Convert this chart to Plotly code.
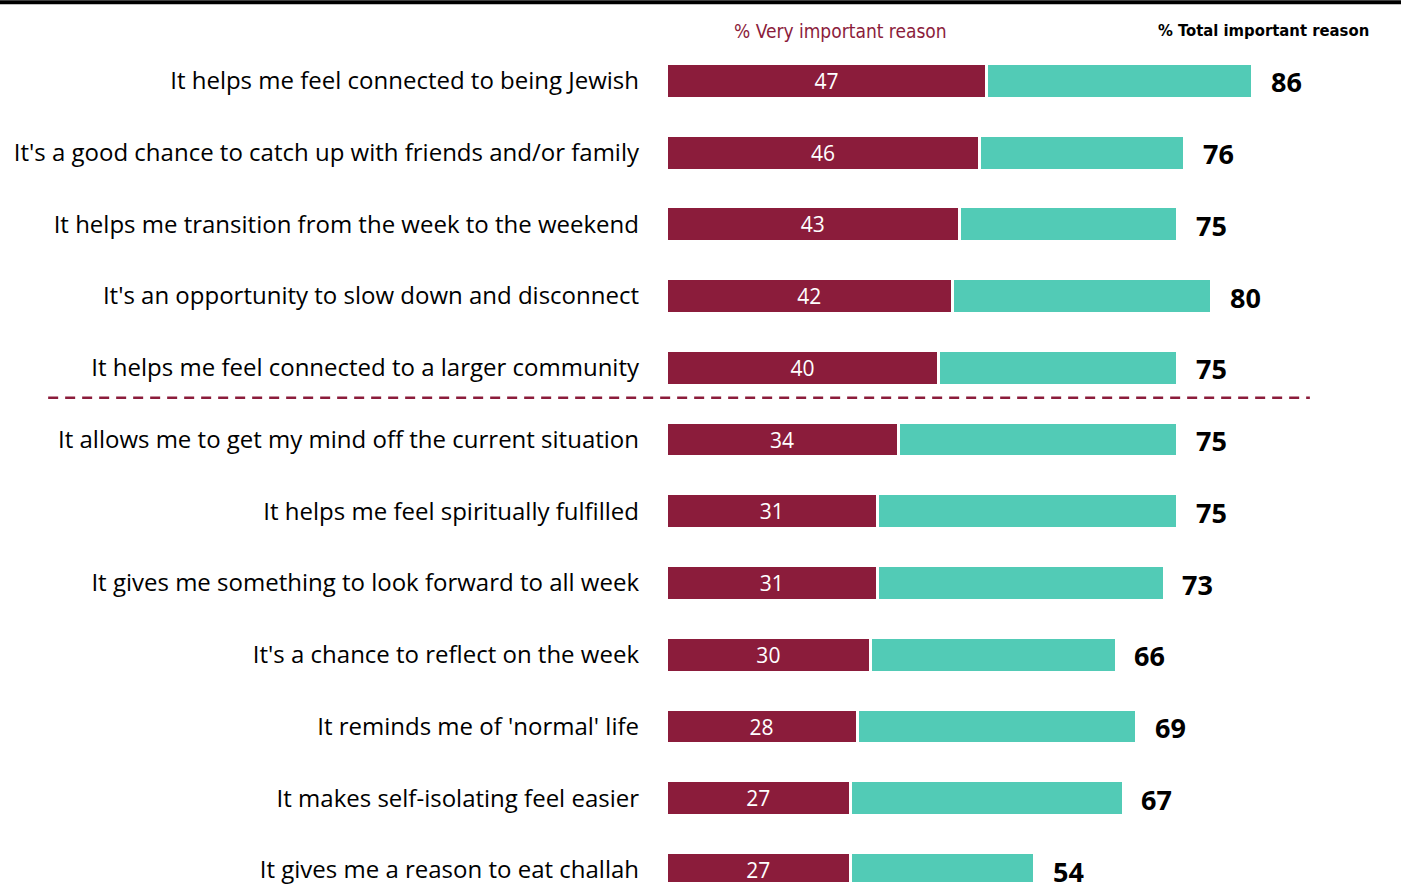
import plotly.graph_objects as go

REASONS = [
    "It helps me feel connected to being Jewish",
    "It's a good chance to catch up with friends and/or family",
    "It helps me transition from the week to the weekend",
    "It's an opportunity to slow down and disconnect",
    "It helps me feel connected to a larger community",
    "It allows me to get my mind off the current situation",
    "It helps me feel spiritually fulfilled",
    "It gives me something to look forward to all week",
    "It's a chance to reflect on the week",
    "It reminds me of 'normal' life",
    "It makes self-isolating feel easier",
    "It gives me a reason to eat challah",
]
VERY_IMPORTANT = [47, 46, 43, 42, 40, 34, 31, 31, 30, 28, 27, 27]
TOTAL_IMPORTANT = [86, 76, 75, 80, 75, 75, 75, 73, 66, 69, 67, 54]

MAROON = "#8B1C3B"
TEAL = "#52CBB6"

pos = list(range(len(REASONS)))
rest = [t - v for t, v in zip(TOTAL_IMPORTANT, VERY_IMPORTANT)]

fig = go.Figure()
fig.add_trace(go.Bar(
    y=pos, x=VERY_IMPORTANT, orientation="h", width=0.485,
    marker=dict(color=MAROON, line=dict(color="white", width=3)),
    text=VERY_IMPORTANT, textposition="inside", insidetextanchor="middle",
    textangle=0, constraintext="none",
    textfont=dict(family="Open Sans", size=21, color="white"),
    hoverinfo="skip",
))
fig.add_trace(go.Bar(
    y=pos, x=rest, orientation="h", width=0.485,
    marker=dict(color=TEAL, line=dict(color="white", width=3)),
    hoverinfo="skip",
))

# totals, just right of each bar
for i, t in zip(pos, TOTAL_IMPORTANT):
    fig.add_annotation(x=t, y=i, text=f"<b>{t}</b>", showarrow=False,
                       xanchor="left", yanchor="middle", xshift=16, yshift=-1,
                       font=dict(family="Open Sans", size=27, color="black"))

# separator between the top five and the rest
fig.add_shape(type="line", xref="paper", yref="paper", x0=-0.8406, x1=0.876, y0=0.5786, y1=0.5786,
              line=dict(color=MAROON, width=2.5, dash="10px,7px"))
# top rule
fig.add_shape(type="line", xref="paper", yref="paper", x0=-0.92, x1=1.0, y0=1.0512, y1=1.0512,
              line=dict(color="black", width=4))

fig.add_annotation(xref="x", yref="paper", x=25.5, y=1.017, text="% Very important reason",
                   showarrow=False, yanchor="middle",
                   font=dict(family="DejaVu Sans Condensed, Liberation Sans Narrow", size=19, color=MAROON))
fig.add_annotation(xref="x", yref="paper", x=87.5, y=1.017, text="<b>% Total important reason</b>",
                   showarrow=False, yanchor="middle",
                   font=dict(family="DejaVu Sans Condensed, Liberation Sans Narrow", size=16.5, color="black"))

fig.update_layout(
    barmode="stack",
    showlegend=False,
    width=1401, height=885,
    margin=dict(l=666, r=0, t=45, b=0),
    plot_bgcolor="white", paper_bgcolor="white",
    xaxis=dict(range=[0, 107.7], visible=False),
    yaxis=dict(range=[11.167, -0.5], tickvals=pos, ticktext=REASONS,
               showgrid=False, zeroline=False, showline=False, ticks="",
               ticklabelstandoff=26, ticklabeloverflow="allow",
               tickfont=dict(family="Open Sans", size=24, color="black")),
)

fig.write_html("out.html", config={"displayModeBar": False},
               post_script="document.body.style.margin='0';")
